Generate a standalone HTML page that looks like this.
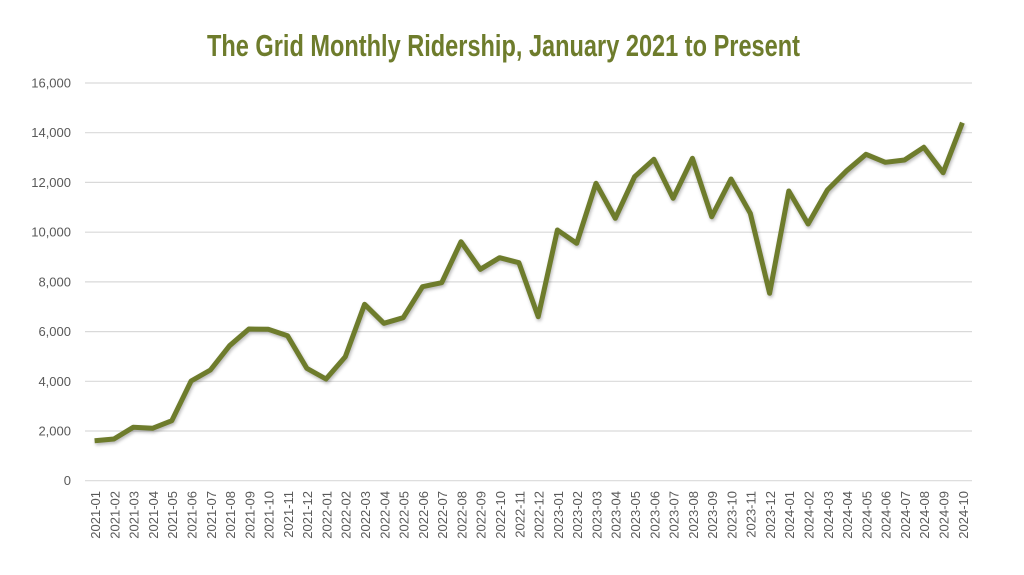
<!DOCTYPE html>
<html>
<head>
<meta charset="utf-8">
<style>
  html, body { margin:0; padding:0; background:#ffffff; }
  svg { display:block; }
  text { font-family: "Liberation Sans", sans-serif; }
</style>
</head>
<body>
<svg width="1024" height="575" viewBox="0 0 1024 575" xmlns="http://www.w3.org/2000/svg">
  <defs>
    <filter id="sh" x="-5%" y="-5%" width="110%" height="110%">
      <feGaussianBlur stdDeviation="1.5"/>
    </filter>
  </defs>
  <rect width="1024" height="575" fill="#ffffff"/>

  <text x="503.5" y="56" text-anchor="middle" font-size="31" font-weight="bold" fill="#6E7C2C" textLength="593" lengthAdjust="spacingAndGlyphs">The Grid Monthly Ridership, January 2021 to Present</text>

  <!-- gridlines -->
  <g stroke="#d9d9d9" stroke-width="1.2">
    <line x1="85" y1="83" x2="972" y2="83"/>
    <line x1="85" y1="132.7" x2="972" y2="132.7"/>
    <line x1="85" y1="182.4" x2="972" y2="182.4"/>
    <line x1="85" y1="232.2" x2="972" y2="232.2"/>
    <line x1="85" y1="281.9" x2="972" y2="281.9"/>
    <line x1="85" y1="331.6" x2="972" y2="331.6"/>
    <line x1="85" y1="381.3" x2="972" y2="381.3"/>
    <line x1="85" y1="431" x2="972" y2="431"/>
    <line x1="85" y1="480.7" x2="972" y2="480.7"/>
  </g>

  <!-- y labels -->
  <g font-size="13" fill="#595959" text-anchor="end">
    <text x="71" y="87.5">16,000</text>
    <text x="71" y="137.2">14,000</text>
    <text x="71" y="186.9">12,000</text>
    <text x="71" y="236.7">10,000</text>
    <text x="71" y="286.4">8,000</text>
    <text x="71" y="336.1">6,000</text>
    <text x="71" y="385.8">4,000</text>
    <text x="71" y="435.5">2,000</text>
    <text x="71" y="485.2">0</text>
  </g>

  <!-- series shadow -->
  <polyline fill="none" stroke="#000" stroke-opacity="0.28" stroke-width="5" stroke-linejoin="round" filter="url(#sh)" transform="translate(1,2)"
    points="94.6,440.7 113.9,439 133.2,427.3 152.5,428.3 171.8,420.7 191.1,381 210.4,370 229.6,345.7 248.9,329 268.2,329.3 287.5,335.7 306.8,368.3 326,379 345.3,356.7 364.6,304.3 383.9,323.3 403.2,317.7 422.5,286.7 441.7,282.7 461,241.7 480.3,269.3 499.6,257.7 518.9,262.7 538.2,316.7 557.4,230 576.7,243.3 596,183.3 615.3,218.3 634.6,176.7 653.9,159.3 673.1,198.3 692.4,158.3 711.7,216.7 731,179 750.3,213.3 769.6,293.3 788.8,191 808.1,224 827.4,190 846.7,170.7 866,154.3 885.3,162.3 904.5,160 923.8,147.3 943.1,172.7 962.4,122.7"/>
  <!-- series -->
  <polyline fill="none" stroke="#6E7C2C" stroke-width="5" stroke-linejoin="round"
    points="94.6,440.7 113.9,439 133.2,427.3 152.5,428.3 171.8,420.7 191.1,381 210.4,370 229.6,345.7 248.9,329 268.2,329.3 287.5,335.7 306.8,368.3 326,379 345.3,356.7 364.6,304.3 383.9,323.3 403.2,317.7 422.5,286.7 441.7,282.7 461,241.7 480.3,269.3 499.6,257.7 518.9,262.7 538.2,316.7 557.4,230 576.7,243.3 596,183.3 615.3,218.3 634.6,176.7 653.9,159.3 673.1,198.3 692.4,158.3 711.7,216.7 731,179 750.3,213.3 769.6,293.3 788.8,191 808.1,224 827.4,190 846.7,170.7 866,154.3 885.3,162.3 904.5,160 923.8,147.3 943.1,172.7 962.4,122.7"/>

  <!-- x labels -->
  <g font-size="13" fill="#595959" text-anchor="end">
    <text transform="translate(100,491) rotate(-90)">2021-01</text>
    <text transform="translate(119.3,491) rotate(-90)">2021-02</text>
    <text transform="translate(138.6,491) rotate(-90)">2021-03</text>
    <text transform="translate(157.9,491) rotate(-90)">2021-04</text>
    <text transform="translate(177.2,491) rotate(-90)">2021-05</text>
    <text transform="translate(196.5,491) rotate(-90)">2021-06</text>
    <text transform="translate(215.8,491) rotate(-90)">2021-07</text>
    <text transform="translate(235,491) rotate(-90)">2021-08</text>
    <text transform="translate(254.3,491) rotate(-90)">2021-09</text>
    <text transform="translate(273.6,491) rotate(-90)">2021-10</text>
    <text transform="translate(292.9,491) rotate(-90)">2021-11</text>
    <text transform="translate(312.2,491) rotate(-90)">2021-12</text>
    <text transform="translate(331.4,491) rotate(-90)">2022-01</text>
    <text transform="translate(350.7,491) rotate(-90)">2022-02</text>
    <text transform="translate(370,491) rotate(-90)">2022-03</text>
    <text transform="translate(389.3,491) rotate(-90)">2022-04</text>
    <text transform="translate(408.6,491) rotate(-90)">2022-05</text>
    <text transform="translate(427.9,491) rotate(-90)">2022-06</text>
    <text transform="translate(447.1,491) rotate(-90)">2022-07</text>
    <text transform="translate(466.4,491) rotate(-90)">2022-08</text>
    <text transform="translate(485.7,491) rotate(-90)">2022-09</text>
    <text transform="translate(505,491) rotate(-90)">2022-10</text>
    <text transform="translate(524.3,491) rotate(-90)">2022-11</text>
    <text transform="translate(543.6,491) rotate(-90)">2022-12</text>
    <text transform="translate(562.8,491) rotate(-90)">2023-01</text>
    <text transform="translate(582.1,491) rotate(-90)">2023-02</text>
    <text transform="translate(601.4,491) rotate(-90)">2023-03</text>
    <text transform="translate(620.7,491) rotate(-90)">2023-04</text>
    <text transform="translate(640,491) rotate(-90)">2023-05</text>
    <text transform="translate(659.3,491) rotate(-90)">2023-06</text>
    <text transform="translate(678.5,491) rotate(-90)">2023-07</text>
    <text transform="translate(697.8,491) rotate(-90)">2023-08</text>
    <text transform="translate(717.1,491) rotate(-90)">2023-09</text>
    <text transform="translate(736.4,491) rotate(-90)">2023-10</text>
    <text transform="translate(755.7,491) rotate(-90)">2023-11</text>
    <text transform="translate(775,491) rotate(-90)">2023-12</text>
    <text transform="translate(794.2,491) rotate(-90)">2024-01</text>
    <text transform="translate(813.5,491) rotate(-90)">2024-02</text>
    <text transform="translate(832.8,491) rotate(-90)">2024-03</text>
    <text transform="translate(852.1,491) rotate(-90)">2024-04</text>
    <text transform="translate(871.4,491) rotate(-90)">2024-05</text>
    <text transform="translate(890.7,491) rotate(-90)">2024-06</text>
    <text transform="translate(909.9,491) rotate(-90)">2024-07</text>
    <text transform="translate(929.2,491) rotate(-90)">2024-08</text>
    <text transform="translate(948.5,491) rotate(-90)">2024-09</text>
    <text transform="translate(967.8,491) rotate(-90)">2024-10</text>
  </g>
</svg>
</body>
</html>
